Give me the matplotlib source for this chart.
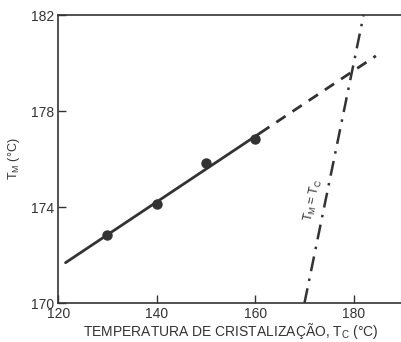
import numpy as np
import matplotlib.pyplot as plt

plt.rcParams['font.family'] = ['Liberation Sans', 'DejaVu Sans']

# Measured points (crystallization temperature vs melting temperature)
tc_points = [130, 140, 150, 160]
tm_points = [172.83, 174.11, 175.82, 176.82]

# Extent of the fitted line (solid part, then dashed extrapolation)
fit_solid = [121.5, 161]
fit_dashed = [161, 184.5]

# Tm = Tc reference line
equal_line = [170, 182]

xticks = [120, 140, 160, 180]
yticks = [170, 174, 178, 182]

ink = '#333333'

fig = plt.figure(figsize=(4.01, 3.42), dpi=100)
ax = fig.add_axes([0.145, 0.114, 0.86, 0.842])

# linear fit of the points
slope, intercept = np.polyfit(tc_points, tm_points, 1)
xs = np.array(fit_solid)
ax.plot(xs, slope * xs + intercept, color=ink, lw=2, solid_capstyle='round')
xd = np.array(fit_dashed)
ax.plot(xd, slope * xd + intercept, color=ink, lw=2, dashes=(4, 3))

ax.plot(tc_points, tm_points, 'o', color=ink, ms=6.5)

# Tm = Tc
ax.plot(equal_line, equal_line, color=ink, lw=1.8, dashes=(6, 3, 1, 3))
ax.text(171.7, 174.3, r'$\mathregular{T_M = T_C}$', rotation=78,
        ha='center', va='center', fontsize=9, color=ink)

ax.set_xlim(120, 190)
ax.set_ylim(170, 182)
ax.set_xticks(xticks)
ax.set_yticks(yticks)
ax.tick_params(direction='in', length=6, width=1, colors=ink,
               labelsize=10, pad=3)
ax.spines['right'].set_visible(False)
for s in ['left', 'top', 'bottom']:
    ax.spines[s].set_color(ink)
    ax.spines[s].set_linewidth(1.2)

ax.set_xlabel(r'TEMPERATURA DE CRISTALIZAÇÃO, $\mathregular{T_C}$ (°C)',
              fontsize=10, color=ink, labelpad=0)
ax.set_ylabel(r'$\mathregular{T_M}$ (°C)', fontsize=9, color=ink, labelpad=6)

fig.savefig('out.png', dpi=100)
